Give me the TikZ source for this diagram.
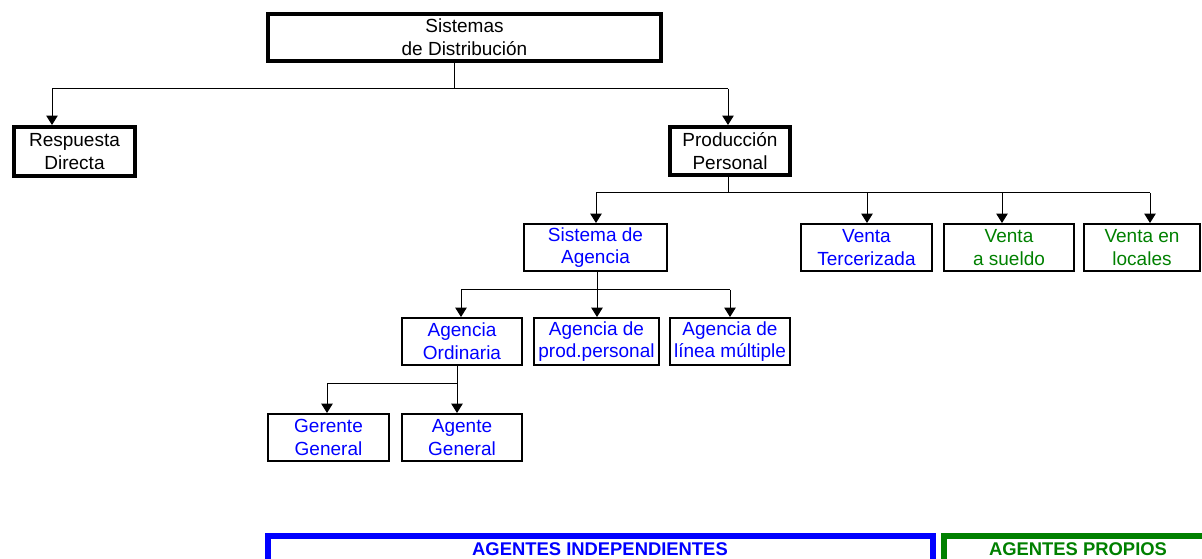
\documentclass[tikz,border=0pt]{standalone}
\usepackage{fontspec}
\setmainfont{Liberation Sans}
\usetikzlibrary{arrows.meta}
\definecolor{agblue}{RGB}{0,0,255}
\definecolor{aggreen}{RGB}{0,128,0}
\begin{document}
\begin{tikzpicture}[x=0.75pt,y=-0.75pt,
  bx/.style={draw=black, rectangle, inner sep=0pt, align=center, font=\fontsize{14.25}{17}\selectfont},
  thickbx/.style={bx, line width=3pt},
  thinbx/.style={bx, line width=1.8pt},
  bluetxt/.style={text=agblue},
  greentxt/.style={text=aggreen},
  conn/.style={line width=0.75pt, draw=black},
  arr/.style={conn, -{Triangle[length=7pt,width=8.5pt]}},
  bar/.style={line width=4.5pt},
  bartxt/.style={font=\fontsize{13.8}{16}\selectfont\bfseries, anchor=base},
]
\useasboundingbox (0,0) rectangle (1202,559);
\clip (0,0) rectangle (1202,559);

% boxes
\node[thickbx, minimum width=294.75pt, minimum height=35.25pt] (top) at (464.5,37.5) {Sistemas\\de Distribución};
\node[thickbx, minimum width=90.75pt, minimum height=36.75pt] (rd) at (74.5,151.5) {Respuesta\\Directa};
\node[thickbx, minimum width=90pt, minimum height=36pt] (pp) at (730,151) {Producción\\Personal};

\node[thinbx, bluetxt, minimum width=106.9pt, minimum height=34.9pt] (sa) at (595.5,247.5) {Sistema de\\Agencia};
\node[thinbx, bluetxt, minimum width=97.9pt, minimum height=34.9pt] (vt) at (866.5,247.5) {Venta\\Tercerizada};
\node[thinbx, greentxt, minimum width=97.1pt, minimum height=34.9pt] (vs) at (1009,247.5) {Venta\\a sueldo};
\node[thinbx, greentxt, minimum width=86.6pt, minimum height=34.9pt] (vl) at (1142,247.5) {Venta en\\locales};

\node[thinbx, bluetxt, minimum width=89.6pt, minimum height=34.9pt] (ao) at (462,341.5) {Agencia\\Ordinaria};
\node[thinbx, bluetxt, minimum width=93.4pt, minimum height=34.9pt] (adp) at (596.5,341.5) {Agencia de\\prod.personal};
\node[thinbx, bluetxt, minimum width=89.6pt, minimum height=34.9pt] (alm) at (730,341.5) {Agencia de\\línea múltiple};

\node[thinbx, bluetxt, minimum width=90.4pt, minimum height=34.9pt] (gg) at (328.5,437.5) {Gerente\\General};
\node[thinbx, bluetxt, minimum width=89.6pt, minimum height=34.9pt] (ag) at (462,437.5) {Agente\\General};

% level 1 connectors
\coordinate (j1) at (454,89);
\coordinate (b1l) at (52,89);
\coordinate (b1r) at (728,89);
\draw[conn] (top.south -| j1) -- (j1);
\draw[conn] (b1l) -- (b1r);
\draw[arr] (b1l) -- (b1l |- rd.north);
\draw[arr] (b1r) -- (b1r |- pp.north);

% level 2 connectors
\coordinate (j2) at (728,193);
\coordinate (b2a) at (596,193);
\coordinate (b2b) at (867,193);
\coordinate (b2c) at (1002,193);
\coordinate (b2d) at (1150,193);
\draw[conn] (pp.south -| j2) -- (j2);
\draw[conn] (b2a) -- (b2d);
\draw[arr] (b2a) -- (b2a |- sa.north);
\draw[arr] (b2b) -- (b2b |- vt.north);
\draw[arr] (b2c) -- (b2c |- vs.north);
\draw[arr] (b2d) -- (b2d |- vl.north);

% level 3 connectors
\coordinate (b3a) at (461,290);
\coordinate (b3b) at (597,290);
\coordinate (b3c) at (730,290);
\draw[conn] (sa.south -| b3b) -- (b3b);
\draw[conn] (b3a) -- (b3c);
\draw[arr] (b3a) -- (b3a |- ao.north);
\draw[arr] (b3b) -- (b3b |- adp.north);
\draw[arr] (b3c) -- (b3c |- alm.north);

% level 4 connectors
\coordinate (b4a) at (327,383);
\coordinate (b4b) at (457,383);
\draw[conn] (ao.south -| b4b) -- (b4b);
\draw[conn] (b4a) -- (b4b);
\draw[arr] (b4a) -- (b4a |- gg.north);
\draw[arr] (b4b) -- (b4b |- ag.north);

% bottom brackets
\draw[bar, draw=agblue] (268,565) -- (268,536) -- (933,536) -- (933,565);
\draw[bar, draw=aggreen] (944,565) -- (944,536) -- (1220,536);
\node[bartxt, text=agblue] (ind) at (600,555) {AGENTES INDEPENDIENTES};
\node[bartxt, text=aggreen] (pro) at (1078,555) {AGENTES PROPIOS};
\end{tikzpicture}
\end{document}
